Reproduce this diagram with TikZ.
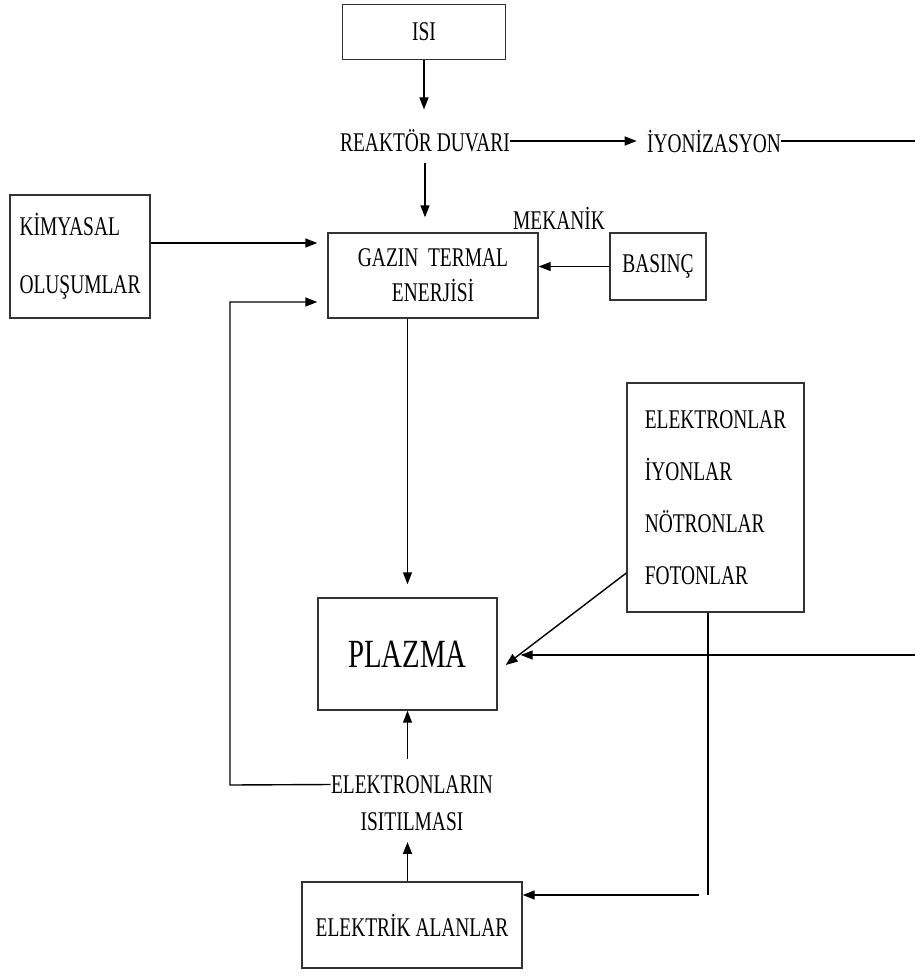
\documentclass[tikz,border=0pt]{standalone}
\usepackage{fontspec}
\setmainfont{Liberation Serif}[FakeStretch=0.72]
\usetikzlibrary{arrows.meta}

\begin{document}
\begin{tikzpicture}[x=0.5pt,y=-0.5pt]
\tikzstyle{box}=[rectangle, draw=black!80, line width=0.7pt, inner sep=0pt, font=\fontsize{13.5}{17}\selectfont]
\tikzstyle{txt}=[inner sep=0pt, font=\fontsize{13.5}{17}\selectfont]
\tikzstyle{connect}=[-{Triangle[length=6pt,width=4.5pt]}, line width=0.7pt]
\tikzstyle{wire}=[line width=0.7pt]
\useasboundingbox (0,0) rectangle (915,979);
  % top row
  \node[box, minimum width=81.5pt, minimum height=27.5pt] (isi) at (424,32) {ISI};
  \node[txt] (reaktor) at (425,141) {REAKTÖR DUVARI};
  \node[txt] (iyon) at (714,141) {İYONİZASYON};
  \coordinate (edgeA) at (915,141);
  % middle row
  \node[box, align=left, minimum width=70pt, minimum height=61.5pt, font=\fontsize{13.5}{29}\selectfont] (kimya) at (80,256.5) {KİMYASAL\\OLUŞUMLAR};
  \node[box, align=center, minimum width=105pt, minimum height=42.5pt, font=\fontsize{13.5}{17.5}\selectfont] (gazin) at (433,275.5) {GAZIN~ TERMAL\\ENERJİSİ};
  \node[txt] (mekanik) at (559,218) {MEKANİK};
  \node[box, minimum width=48pt, minimum height=33.5pt] (basinc) at (658,266.5) {BASINÇ};
  % particles and plasma
  \node[box, align=left, minimum width=88.5pt, minimum height=114.5pt, font=\fontsize{13.5}{26}\selectfont] (parts) at (715.5,497.5) {ELEKTRONLAR\\İYONLAR\\NÖTRONLAR\\FOTONLAR};
  \node[box, minimum width=89.5pt, minimum height=56pt, font=\fontsize{20}{24}\selectfont] (plazma) at (407.5,654) {PLAZMA};
  \coordinate (edgeB) at (915,655);
  % bottom
  \node[txt, align=center, font=\fontsize{13.5}{18.5}\selectfont] (isitma) at (412,803) {ELEKTRONLARIN\\ISITILMASI};
  \node[box, minimum width=110pt, minimum height=43pt] (elektrik) at (412,925) {ELEKTRİK ALANLAR};
  \coordinate (loop) at (230,785);
  \coordinate (drop) at (708,895);

  \draw[connect, shorten >=10pt] (isi) -- (isi.south |- reaktor.north);
  \draw[connect, shorten >=5pt] (reaktor) -- (iyon);
  \draw[wire] (iyon) -- (edgeA);
  \draw[connect, shorten <=5pt, shorten >=7.5pt] (reaktor) -- (reaktor |- gazin.north);
  \draw[connect, shorten >=5pt] ([yshift=6.75pt]kimya.east) -- ([yshift=6.75pt]kimya.east -| gazin.west);
  \draw[connect] (basinc) -- (basinc -| gazin.east);
  \draw[connect, shorten >=6.5pt] (plazma.north |- gazin.south) -- (plazma);
  \draw[connect] ([yshift=-37.75pt]parts.west) -- ([xshift=4pt,yshift=-5.5pt]plazma.east);
  \draw[connect, shorten >=11.5pt] (edgeB) -- (plazma.east |- edgeB);
  \draw[wire] ([xshift=-3.75pt]parts.south) -- (drop);
  \draw[connect] ([xshift=-4.5pt]drop) -- (elektrik.east |- drop);
  \draw[connect, shorten >=5.5pt] (plazma.south |- elektrik.north) -- (plazma.south |- isitma.south);
  \draw[connect, shorten <=8pt] (plazma.south |- isitma.north) -- (plazma);
  \draw[connect, shorten >=5pt] ([yshift=9.25pt]isitma.west) -- (loop) |- ([yshift=-13.25pt]gazin.west);
\end{tikzpicture}
\end{document}
